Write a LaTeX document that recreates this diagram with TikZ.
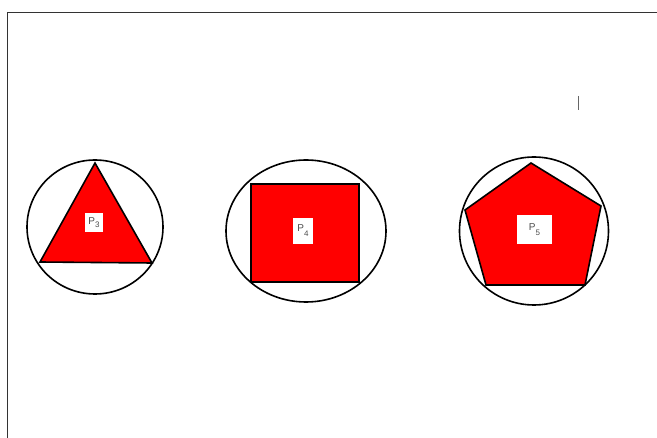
\documentclass[tikz,border=0pt]{standalone}
\usetikzlibrary{shapes.geometric}
\usepackage{fontspec}
\setsansfont{Liberation Sans}
\begin{document}
\begin{tikzpicture}[x=1pt,y=-1pt,
  ring/.style={draw=black,line width=1.6pt},
  poly/.style={draw=black,fill=red,line width=1.6pt,line join=miter},
  lab/.style={fill=white,inner sep=0pt,text=black!70,font=\sffamily\fontsize{10}{10}\selectfont},
  frame/.style={draw=black!80,line width=0.8pt}]
\useasboundingbox (0,0) rectangle (657,438);
% frame
\coordinate (ftl) at (7,12);
\coordinate (ftr) at (657,12);
\coordinate (fbl) at (7,438);
\draw[frame] (ftr) -- (ftl) -- (fbl);
% small tick
\coordinate (t1) at (578,96);
\coordinate (t2) at (578,110);
\draw[black!60,line width=1pt] (t1) -- (t2);
% triangle
\node[ring,ellipse,minimum width=136pt,minimum height=134pt,inner sep=0pt] (c1) at (95,227) {};
\draw[poly] (95,163) -- (152,263) -- (40,262) -- cycle;
\node[lab,minimum width=18pt,minimum height=19pt] (l1) at (94,223) {P\raisebox{-3pt}{\fontsize{8}{8}\selectfont 3}};
% square
\node[ring,ellipse,minimum width=160pt,minimum height=142pt,inner sep=0pt] (c2) at (306,231) {};
\draw[poly] (251,184) rectangle (359,282);
\node[lab,minimum width=20pt,minimum height=26pt] (l2) at (303,231) {P\raisebox{-5pt}{\fontsize{8}{8}\selectfont 4}};
% pentagon
\node[ring,ellipse,minimum width=149pt,minimum height=148pt,inner sep=0pt] (c3) at (534,231) {};
\draw[poly] (531,163) -- (601,206) -- (585,285) -- (486,285) -- (465,210) -- cycle;
\node[lab,minimum width=35pt,minimum height=29pt] (l3) at (534.5,229.5) {P\raisebox{-5pt}{\fontsize{8}{8}\selectfont 5}};
\end{tikzpicture}
\end{document}
